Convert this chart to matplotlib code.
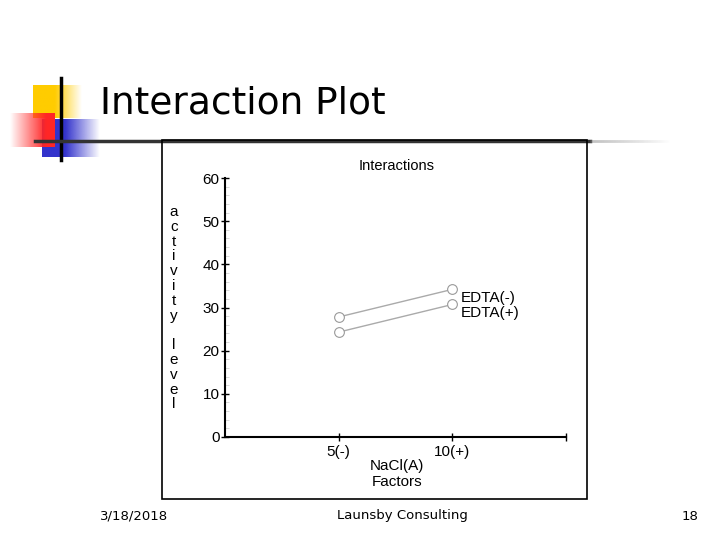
import numpy as np
import matplotlib
matplotlib.use("Agg")
import matplotlib.pyplot as plt
from matplotlib.ticker import MultipleLocator

# data
factor_levels = ["5(-)", "10(+)"]
edta_minus = [27.8, 34.2]
edta_plus = [24.3, 30.7]
series_names = ["EDTA(-)", "EDTA(+)"]

W, H = 720, 540
fig = plt.figure(figsize=(7.2, 5.4), dpi=100)

# background axes in pixel coordinates for the slide decoration
bg = fig.add_axes([0, 0, 1, 1])
bg.set_xlim(0, W)
bg.set_ylim(H, 0)
bg.axis("off")


def fade_box(x0, x1, y0, y1, rgb, solid_frac, direction="right"):
    n = 200
    t = np.linspace(0, 1, n)
    if direction == "right":
        a = np.where(t < solid_frac, 1.0, 1 - (t - solid_frac) / (1 - solid_frac))
    else:
        a = np.where(t > 1 - solid_frac, 1.0, t / (1 - solid_frac))
    img = np.zeros((2, n, 4))
    img[..., 0], img[..., 1], img[..., 2] = rgb
    img[..., 3] = a
    bg.imshow(img, extent=(x0, x1, y1, y0), aspect="auto", zorder=1,
              interpolation="bilinear")


fade_box(33, 82, 85, 118, (1.0, 0.80, 0.0), 0.45)
fade_box(42, 100, 119, 157, (0.2, 0.2, 0.8), 0.40)
fade_box(10, 55, 113, 147, (1.0, 0.15, 0.15), 0.2, direction="left")
bg.plot([61, 61], [78, 160], color="black", lw=2.5, zorder=3)
bg.plot([35, 590], [141, 141], color="#333333", lw=2.5, zorder=3)
grad = np.linspace(0, 1, 100)
for i in range(len(grad) - 1):
    x0 = 590 + i * 0.8
    bg.plot([x0, x0 + 0.8], [141, 141], color="#888888", alpha=0.6 * (1 - grad[i]),
            lw=2, zorder=3, solid_capstyle="butt")

bg.text(100, 103, "Interaction Plot", fontsize=27, family="DejaVu Sans",
        va="center", ha="left", zorder=4)

# chart frame
bg.add_patch(plt.Rectangle((162, 140), 425, 359, fill=False, ec="black", lw=1.2, zorder=4))

# footer
bg.text(100, 516, "3/18/2018", fontsize=9.5, family="DejaVu Sans", va="center", ha="left")
bg.text(402, 516, "Launsby Consulting", fontsize=9.5, family="DejaVu Sans", va="center", ha="center")
bg.text(698, 516, "18", fontsize=9.5, family="DejaVu Sans", va="center", ha="right")

# the embedded chart
ax = fig.add_axes([225 / W, (H - 437) / H, 341 / W, 259 / H])
ax.patch.set_alpha(0)
x = np.arange(1, len(factor_levels) + 1)
for vals, name in zip([edta_minus, edta_plus], series_names):
    ax.plot(x, vals, color="#aaaaaa", lw=1, marker="o", ms=7, mfc="white",
            mec="#999999", mew=0.8)
    ax.text(x[-1] + 0.07, vals[-1] - 2.0, name, fontsize=11,
            family="Liberation Sans", va="center", ha="left")

ax.set_xlim(0, 3)
ax.set_ylim(0, 60)
ax.set_xticks([1, 2, 3])
ax.set_xticklabels(factor_levels + [""], family="Liberation Sans", fontsize=11)
ax.set_yticks(range(0, 61, 10))
ax.set_yticklabels([str(v) for v in range(0, 61, 10)], family="Liberation Sans", fontsize=11)
ax.yaxis.set_minor_locator(MultipleLocator(2))
ax.tick_params(axis="both", which="major", direction="inout", length=6, width=1, pad=1)
ax.tick_params(axis="x", which="major", pad=3)
ax.tick_params(axis="y", which="minor", direction="in", length=3, width=0.5, color="#cccccc")
for s in ["top", "right"]:
    ax.spines[s].set_visible(False)
ax.spines["left"].set_linewidth(1.5)
ax.spines["bottom"].set_linewidth(1.5)

bg.text(397, 166, "Interactions", fontsize=10.5, family="Liberation Sans", va="center", ha="center")
bg.text(397, 466, "NaCl(A)", fontsize=11, family="Liberation Sans", va="center", ha="center")
bg.text(397, 482, "Factors", fontsize=11, family="Liberation Sans", va="center", ha="center")
ylabel = "activity level"
for i, ch in enumerate(ylabel):
    bg.text(174, 212 + i * 14.8, ch, fontsize=11, family="Liberation Sans",
            va="center", ha="center")

fig.savefig("out.png", dpi=100)
